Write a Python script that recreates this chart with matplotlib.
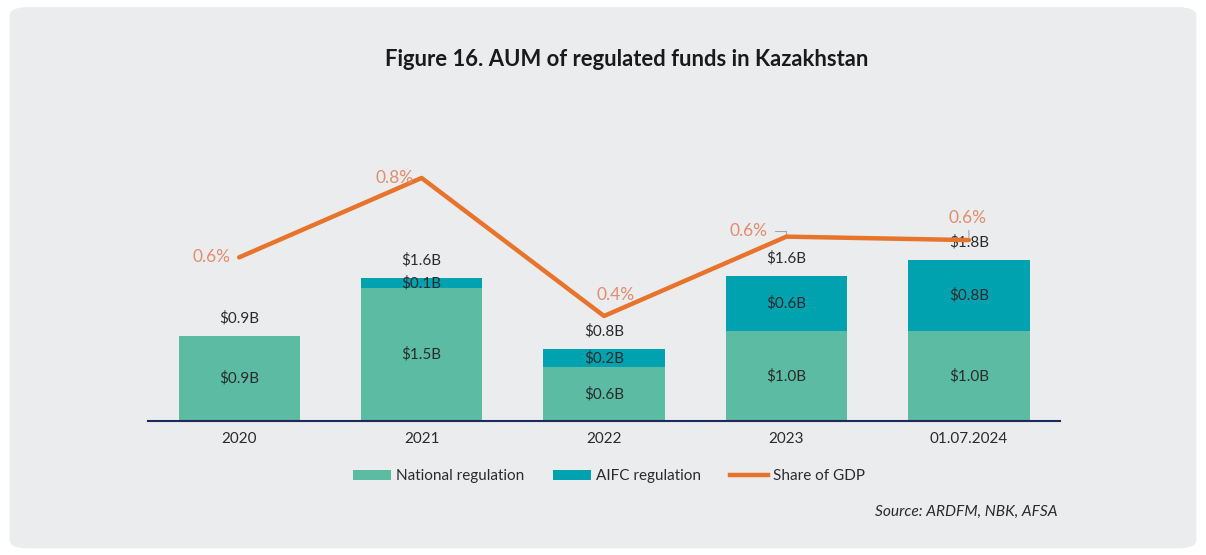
import matplotlib.pyplot as plt
from matplotlib.patches import FancyBboxPatch, Patch
from matplotlib.lines import Line2D

categories = ['2020', '2021', '2022', '2023', '01.07.2024']
national = [0.94, 1.48, 0.60, 1.00, 1.00]
aifc = [0.0, 0.11, 0.20, 0.61, 0.79]
share_gdp = [0.57, 0.80, 0.40, 0.63, 0.62]

national_labels = ['$0.9B', '$1.5B', '$0.6B', '$1.0B', '$1.0B']
aifc_labels = ['', '$0.1B', '$0.2B', '$0.6B', '$0.8B']
total_labels = ['$0.9B', '$1.6B', '$0.8B', '$1.6B', '$1.8B']
share_labels = ['0.6%', '0.8%', '0.4%', '0.6%', '0.6%']

c_nat = '#5CBBA3'
c_aifc = '#00A2B0'
c_line = '#E8732A'
c_pct = '#E38C6E'
c_text = '#2B2B2B'

plt.rcParams['font.family'] = ['Lato', 'DejaVu Sans']

fig = plt.figure(figsize=(12.06, 5.55), dpi=100)
fig.patch.set_facecolor('white')
card = FancyBboxPatch((0.008, 0.012), 0.984, 0.975, boxstyle='round,pad=0,rounding_size=0.015',
                      transform=fig.transFigure, facecolor='#EBECEE', edgecolor='none', zorder=-10)
fig.patches.append(card)

ax = fig.add_axes([0.1227, 0.2414, 0.7563, 0.4883])
ax.set_facecolor('none')
x = range(len(categories))
w = 0.665
ax.bar(x, national, w, color=c_nat, zorder=2)
ax.bar(x, aifc, w, bottom=national, color=c_aifc, zorder=2)
ax.set_xlim(-0.5, 4.5)
ax.set_ylim(0, 3.01)

for i in x:
    ax.text(i, national[i] / 2, national_labels[i], ha='center', va='center', fontsize=11, color=c_text, zorder=3)
    if aifc_labels[i]:
        ax.text(i, national[i] + aifc[i] / 2, aifc_labels[i], ha='center', va='center', fontsize=11, color=c_text, zorder=3)
    tot = national[i] + aifc[i]
    ax.annotate(total_labels[i], (i, tot), xytext=(0, 13), textcoords='offset points',
                ha='center', va='center', fontsize=11, color=c_text, zorder=3)

for s in ['top', 'right', 'left']:
    ax.spines[s].set_visible(False)
ax.spines['bottom'].set_color('#1F2A5C')
ax.spines['bottom'].set_linewidth(1.5)
ax.set_yticks([])
ax.set_xticks(list(x))
ax.set_xticklabels(categories, fontsize=11, color=c_text)
ax.tick_params(axis='x', length=0, pad=8)

ax2 = ax.twinx()
ax2.set_ylim(0.0957, 0.881)
ax2.plot(list(x), share_gdp, color=c_line, linewidth=3.2, zorder=4, solid_capstyle='round')
ax2.axis('off')
offsets = [(-6, 0, 'right', 'center'), (-6, 0, 'right', 'center'), (8, 15, 'center', 'center'),
           (-14, 4, 'right', 'center'), (-1, 16, 'center', 'center')]
for i, (dx, dy, ha, va) in enumerate(offsets):
    ax2.annotate(share_labels[i], (i, share_gdp[i]), xytext=(dx, dy), textcoords='offset points',
                 ha=ha, va=va, fontsize=12.5, color=c_pct, zorder=5)
# small leader marks
ax2.annotate('', (3, share_gdp[3]), xytext=(-10, 4), textcoords='offset points',
             arrowprops=dict(arrowstyle='-', color='#A0A4B0', lw=0.8, connectionstyle='angle,angleA=0,angleB=90'))
ax2.annotate('', (4, share_gdp[4]), xytext=(0, 9), textcoords='offset points',
             arrowprops=dict(arrowstyle='-', color='#A0A4B0', lw=0.8))

fig.text(0.52, 0.892, 'Figure 16. AUM of regulated funds in Kazakhstan', ha='center', va='center',
         fontsize=15.8, fontweight='bold', color='#1A1A1A')

handles = [Patch(facecolor=c_nat, label='National regulation'),
           Patch(facecolor=c_aifc, label='AIFC regulation'),
           Line2D([0], [0], color=c_line, linewidth=3.2, label='Share of GDP')]
fig.legend(handles=handles, loc='center', bbox_to_anchor=(0.505, 0.142), ncol=3, frameon=False,
           fontsize=11, handlelength=2.5, handleheight=0.6, columnspacing=1.9, handletextpad=0.3,
           labelcolor=c_text)

fig.text(0.877, 0.077, 'Source: ARDFM, NBK, AFSA', ha='right', va='center', fontsize=11.2,
         style='italic', color=c_text)

plt.savefig('out.png', dpi=100)
plt.close()
